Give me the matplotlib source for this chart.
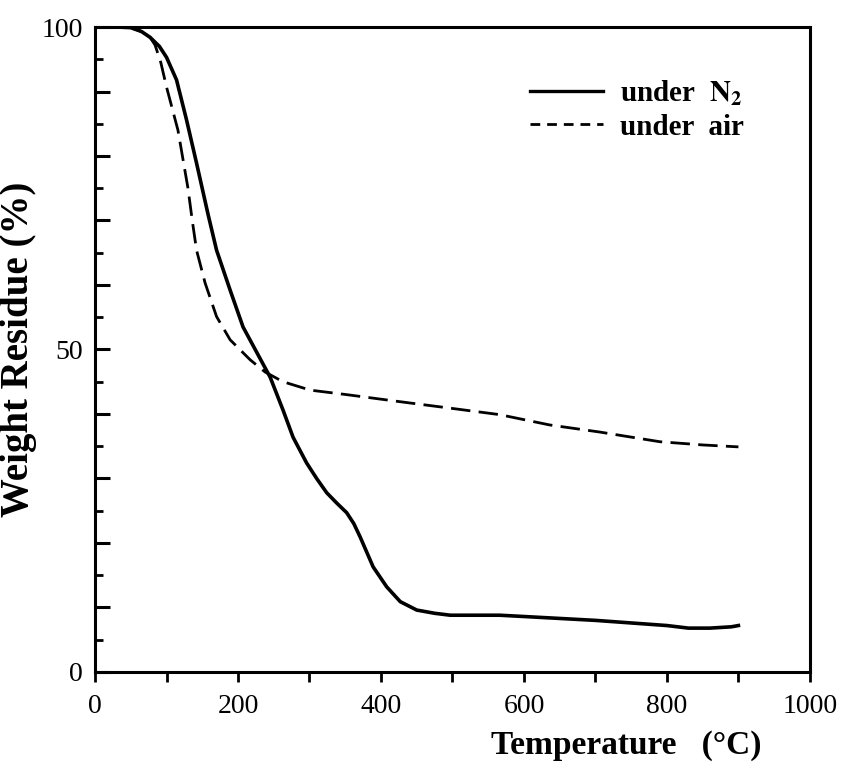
import matplotlib
matplotlib.use("Agg")
import matplotlib.pyplot as plt
from matplotlib.lines import Line2D
from matplotlib.ticker import MultipleLocator, FuncFormatter

plt.rcParams['font.family'] = ['Liberation Serif', 'DejaVu Serif']
plt.rcParams['mathtext.fontset'] = 'stix'

# TGA curve under nitrogen (solid)
temp_n2 = [0, 30, 50, 65, 77, 90, 100, 114, 128, 142, 158, 170, 189, 207, 226,
           245, 263, 277, 296, 310, 324, 338, 352, 362, 371, 389, 408, 427, 450,
           475, 497, 566, 600, 650, 700, 750, 800, 830, 860, 890, 900]
wt_n2 = [100, 100, 99.9, 99.3, 98.4, 97, 95.3, 91.8, 85.6, 78.9, 71, 65.4, 59.2,
         53.5, 49.6, 45.7, 40.6, 36.4, 32.4, 30.0, 27.8, 26.2, 24.7, 23.0, 20.9,
         16.3, 13.2, 10.9, 9.6, 9.1, 8.8, 8.8, 8.6, 8.3, 8.0, 7.6, 7.2, 6.8, 6.8,
         7.0, 7.2]

# TGA curve under air (dashed)
temp_air = [0, 30, 50, 65, 77, 84, 92, 100, 116, 130, 136, 142, 154, 170, 189,
            217, 238, 263, 301, 352, 427, 497, 566, 636, 706, 790, 850, 900]
wt_air = [100, 100, 99.9, 99.3, 98.4, 97.2, 94.5, 90.7, 84, 75, 70, 65.4, 60.3,
          55.1, 51.5, 48.4, 46.5, 45, 43.7, 43.0, 41.9, 40.9, 39.9, 38.3, 37.2,
          35.7, 35.2, 34.9]

y_labelled = [0, 50, 100]

fig = plt.figure(figsize=(8.44, 7.65), dpi=100)
ax = fig.add_axes([0.1126, 0.1216, 0.847, 0.8431])

ax.plot(temp_n2, wt_n2, color='black', lw=2.6)
ax.plot(temp_air, wt_air, color='black', lw=2.0, linestyle=(0, (7, 3)))

ax.set_xlim(0, 1000)
ax.set_ylim(0, 100)
ax.xaxis.set_major_locator(MultipleLocator(200))
ax.xaxis.set_minor_locator(MultipleLocator(100))
ax.yaxis.set_major_locator(MultipleLocator(10))
ax.yaxis.set_minor_locator(MultipleLocator(5))
ax.yaxis.set_major_formatter(FuncFormatter(
    lambda v, p: '%d' % v if int(round(v)) in y_labelled else ''))

for s in ax.spines.values():
    s.set_linewidth(2.2)

ax.tick_params(axis='x', which='both', direction='out', length=7, width=2,
               labelsize=20, pad=9)
ax.tick_params(axis='y', which='major', direction='in', length=11, width=2.2,
               labelsize=20, pad=9)
ax.tick_params(axis='y', which='minor', direction='in', length=6, width=2)

ax.set_ylabel('Weight Residue (%)', fontsize=28, fontweight='bold')
ax.yaxis.set_label_coords(-0.081, 0.5)
ax.set_xlabel('Temperature   (°C)', fontsize=24, fontweight='bold')
ax.xaxis.set_label_coords(0.743, -0.09)

handles = [Line2D([], [], color='black', lw=2.4),
           Line2D([], [], color='black', lw=2.0, linestyle=(0, (3.5, 2.5)))]
labels = [r'under  $\mathbf{N_2}$', 'under  air']
ax.legend(handles, labels, loc='upper left', bbox_to_anchor=(0.608, 0.92),
          frameon=False, handlelength=2.5, handletextpad=0.6,
          borderpad=0, borderaxespad=0, labelspacing=0.2,
          prop={'weight': 'bold', 'size': 21})

fig.savefig('out.png', dpi=100)
